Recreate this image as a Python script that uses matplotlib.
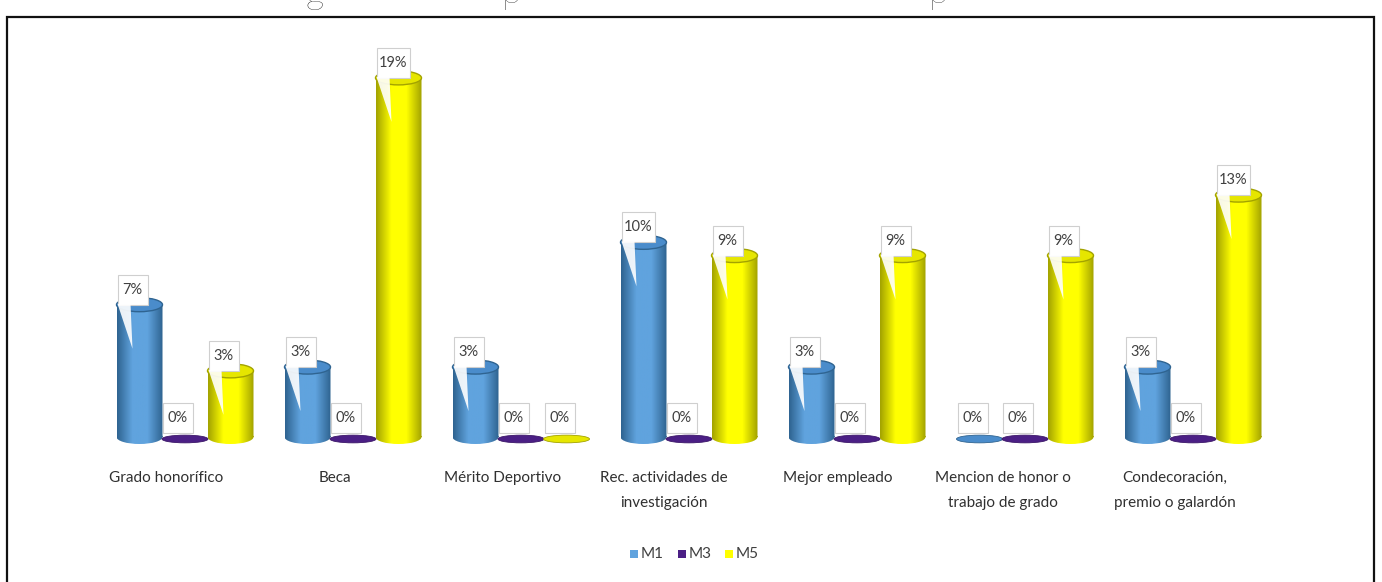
import numpy as np
import matplotlib
matplotlib.use("Agg")
import matplotlib.pyplot as plt
from matplotlib.colors import LinearSegmentedColormap
from matplotlib.patches import Ellipse, Polygon, Rectangle, PathPatch
from matplotlib.path import Path

plt.rcParams['font.family'] = ['Lato', 'DejaVu Sans']

# Datos
categorias = ["Grado honorífico", "Beca", "Mérito Deportivo",
              "Rec. actividades de\ninvestigación", "Mejor empleado",
              "Mencion de honor o\ntrabajo de grado",
              "Condecoración,\npremio o galardón"]
m1 = [7.0, 3.7, 3.7, 10.3, 3.7, 0, 3.7]
m3 = [0, 0, 0, 0, 0, 0, 0]
m5 = [3.5, 19, 0, 9.6, 9.6, 9.6, 12.8]
m1_txt = ["7%", "3%", "3%", "10%", "3%", "0%", "3%"]
m3_txt = ["0%", "0%", "0%", "0%", "0%", "0%", "0%"]
m5_txt = ["3%", "19%", "0%", "9%", "9%", "9%", "13%"]
series = ["M1", "M3", "M5"]

# Colores: borde, centro, tapa
colores = {
    "M1": ("#2f6491", "#60a3de", "#4a8ccb"),
    "M3": ("#3b1668", "#6a2fa0", "#4b1f85"),
    "M5": ("#a3a300", "#ffff00", "#e6e600"),
}

# Escala del eje en pixeles
W, H = 1382, 582
PX_X = 168.0   # pixeles por categoria
PX_Y = 18.9    # pixeles por 1%
X0 = 185       # centro del primer grupo
Y0 = 437       # linea base
OFF = 45.5 / PX_X
ANCHO = 46 / PX_X
ELIP = 14 / PX_Y

fig = plt.figure(figsize=(W / 100, H / 100), dpi=100)
ax = fig.add_axes([0, 0, 1, 1])
ax.set_xlim(-X0 / PX_X, (W - X0) / PX_X)
ax.set_ylim(-(H - Y0) / PX_Y, Y0 / PX_Y)
ax.axis("off")


def cilindro(x, v, nombre):
    borde, centro, tapa = colores[nombre]
    if v <= 0:
        # barra en cero: solo una elipse plana
        ax.add_patch(Ellipse((x, -2 / PX_Y), ANCHO, ELIP * 0.55, fc=tapa, ec=borde, lw=0.6, zorder=3))
        return
    cmap = LinearSegmentedColormap.from_list(nombre, [borde, centro, centro, borde], N=64)
    grad = np.linspace(0, 1, 64).reshape(1, -1)
    izq, der = x - ANCHO / 2, x + ANCHO / 2
    im = ax.imshow(grad, extent=(izq, der, -ELIP / 2, v), aspect="auto", cmap=cmap, zorder=3)
    # cuerpo: rectangulo mas la elipse de abajo
    rect = Path([(izq, 0), (der, 0), (der, v), (izq, v), (izq, 0)], closed=True)
    circ = Path.unit_circle()
    base = Path(circ.vertices * [ANCHO / 2, ELIP / 2] + [x, 0], circ.codes)
    clip = PathPatch(Path.make_compound_path(rect, base), transform=ax.transData)
    im.set_clip_path(clip)
    ax.add_patch(Ellipse((x, v), ANCHO, ELIP, fc=tapa, ec=borde, lw=1.0, zorder=3.1))


def globo(x, v, txt):
    # globo blanco con cola hacia la barra
    izq = x - ANCHO / 2 + 1 / PX_X
    w = (30 if len(txt) < 3 else 33) / PX_X
    h = 30 / PX_Y
    y = v if v > 0 else 0.2
    ax.add_patch(Rectangle((izq, y), w, h, fc="white", ec="#cfcfcf", lw=0.8, zorder=5))
    if v > 0:
        cola = [(izq, y + 0.05), (izq + 13 / PX_X, y + 0.05), (izq + 15 / PX_X, y - 44 / PX_Y)]
        ax.add_patch(Polygon(cola, fc="white", ec="none", alpha=0.9, zorder=5))
    ax.text(izq + w / 2, y + h / 2, txt, ha="center", va="center", fontsize=10.5,
            color="#404040", zorder=6)


for i in range(len(categorias)):
    for j, (nombre, vals) in enumerate(zip(series, [m1, m3, m5])):
        cilindro(i + (j - 1) * OFF, vals[i], nombre)
    for j, vals_txt in enumerate(zip([m1, m3, m5], [m1_txt, m3_txt, m5_txt])):
        vals, txts = vals_txt
        globo(i + (j - 1) * OFF, vals[i], txts[i])

# Etiquetas de categoria
desplaza = [-19, -18, -18, -25, -19, -22, -18]
for i, c in enumerate(categorias):
    ax.text(i + desplaza[i] / PX_X, (Y0 - 471) / PX_Y, c, ha="center", va="top",
            fontsize=11, color="#303030", linespacing=2.0)

# Leyenda
ley_x = [634, 682, 729]
for px, nombre in zip(ley_x, series):
    xd = (px - X0) / PX_X
    yd = (Y0 - 554) / PX_Y
    ax.add_patch(Rectangle((xd - 4 / PX_X, yd - 4 / PX_Y), 8 / PX_X, 8 / PX_Y,
                           fc=colores[nombre][1] if nombre != "M3" else colores[nombre][2],
                           ec="none"))
    ax.text(xd + 7 / PX_X, yd, nombre, ha="left", va="center", fontsize=11, color="#404040")

# Marco del grafico
ax.add_patch(Rectangle((-X0 / PX_X + 7 / PX_X, -(H - Y0) / PX_Y - 5 / PX_Y),
                       1367 / PX_X, (H + 5 - 17) / PX_Y, fc="none", ec="#111111", lw=1.6,
                       zorder=8))

# Titulo cortado: solo asoman los descendentes
for px, letra in zip([314, 511, 938], ["g", "p", "p"]):
    ax.text((px - X0) / PX_X, (Y0 - 3) / PX_Y, letra, ha="center", va="baseline",
            fontsize=26, fontweight="light", color="black", clip_on=True)

fig.savefig("out.png", dpi=100, facecolor="white")
